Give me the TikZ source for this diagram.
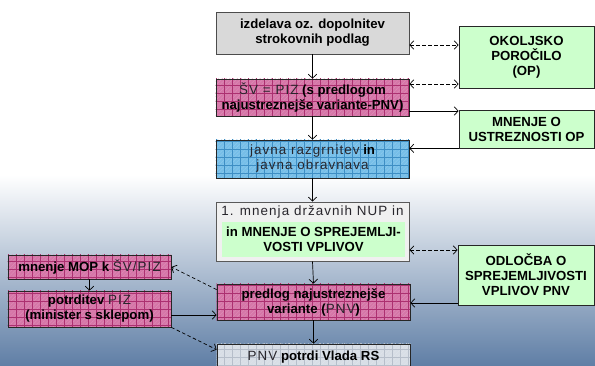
\documentclass[tikz,border=0pt]{standalone}
\usepackage{fontspec}
\setmainfont{Liberation Sans}
\newfontfamily\regf[LetterSpace=8]{Liberation Sans}
\usetikzlibrary{patterns.meta,arrows.meta,calc,backgrounds}
\definecolor{pinkf}{RGB}{214,118,168}
\definecolor{pinkl}{RGB}{172,48,112}
\definecolor{bluef}{RGB}{118,190,232}
\definecolor{bluel}{RGB}{62,142,196}
\definecolor{greenf}{RGB}{204,255,204}
\definecolor{grayf}{RGB}{217,217,217}
\definecolor{lgrayf}{RGB}{240,240,240}
\definecolor{pnvf}{RGB}{216,222,230}
\definecolor{pnvl}{RGB}{182,190,202}
\definecolor{bgblue}{RGB}{96,127,166}
\definecolor{regc}{RGB}{40,38,44}
\newcommand{\rg}[1]{{\mdseries\regf\fontsize{13.4}{15}\selectfont\color{regc}#1}}
\tikzset{
  box/.style={draw=black!85, line width=0.7pt, align=center, inner sep=1pt,
    font=\bfseries\fontsize{13.2}{15}\selectfont},
  gridfill/.style 2 args={fill=#1,
    postaction={pattern={Lines[distance=2.67pt,angle=45,line width=0.3pt]}, pattern color=#1!80!white},
    postaction={pattern={Lines[distance=8pt,angle=0,line width=0.5pt]}, pattern color=#2},
    postaction={pattern={Lines[distance=8pt,angle=90,line width=0.5pt]}, pattern color=#2}},
  midbox/.style={box, minimum width=193pt},
  sidebox/.style={box, fill=greenf, minimum width=135pt},
  leftbox/.style={box, minimum width=163pt},
  tip/.tip={Straight Barb[length=4pt,width=8.5pt,line width=0.7pt]},
  arr/.style={-tip, line width=0.7pt, black},
  darr/.style={line width=0.7pt, black, dash pattern=on 3.5pt off 2.5pt}
}
\begin{document}
\begin{tikzpicture}[x=1pt,y=-1pt]
\useasboundingbox (0,0) rectangle (595,365);
% middle column
\node[midbox, fill=grayf, draw=black!70, minimum height=42pt] (b1) at (312.5,33)
  {izdelava oz. dopolnitev\\strokovnih podlag};
\node[midbox, minimum height=37pt] (b2) at (312.5,97.5)
  {\rg{ŠV = PIZ} (s predlogom\\najustreznejše variante-PNV)};
\node[midbox, minimum height=38pt] (b3) at (312.5,159)
  {\rg{javna razgrnitev} in\\\rg{javna obravnava}};
\node[midbox, fill=lgrayf, draw=black!65, line width=1pt, minimum height=59pt] (b4) at (312.5,231.5) {};
\node[box, draw=none] (b4t) at (312.5,212.5) {\rg{1. mnenja državnih NUP in}};
\node[box, draw=none, fill=greenf, minimum width=183pt, minimum height=35pt] (b4in) at (313.5,239.5)
  {in MNENJE O SPREJEMLJI-\\VOSTI VPLIVOV};
\node[midbox, minimum height=36pt] (b5) at (313.5,302)
  {predlog najustreznejše\\variante (\rg{PNV})};
\node[midbox, minimum height=30pt, text depth=6pt] (b6) at (313.5,359)
  {\rg{PNV} potrdi Vlada RS};
% right column
\node[sidebox, minimum height=62pt] (op) at (526.5,57) {OKOLJSKO\\POROČILO\\(OP)};
\node[sidebox, minimum height=38pt] (mu) at (526.5,129) {MNENJE O\\USTREZNOSTI OP};
\node[sidebox, minimum width=136pt, minimum height=60pt] (od) at (526,275) {ODLOČBA O\\SPREJEMLJIVOSTI\\VPLIVOV PNV};
% left column
\node[leftbox, minimum height=24pt] (mop) at (89.5,267) {mnenje MOP k \rg{ŠV/PIZ}};
\node[leftbox, minimum height=36pt] (pot) at (89.5,309) {potrditev \rg{PIZ}\\(minister s sklepom)};
% backgrounds and textured fills, behind the nodes
\begin{scope}[on background layer]
\fill[white] (0,0) rectangle (595,176);
\shade[top color=white, bottom color=bgblue] (0,175) rectangle (595,365);
\path[gridfill={pinkf}{pinkl}] (b2.north west) rectangle (b2.south east);
\path[gridfill={bluef}{bluel}] (b3.north west) rectangle (b3.south east);
\path[gridfill={pinkf}{pinkl}] (b5.north west) rectangle (b5.south east);
\path[gridfill={pnvf}{pnvl}] (b6.north west) rectangle (b6.south east);
\path[gridfill={pinkf}{pinkl}] (mop.north west) rectangle (mop.south east);
\path[gridfill={pinkf}{pinkl}] (pot.north west) rectangle (pot.south east);
\end{scope}
% vertical flow
\draw[arr] (b1.south) -- (b2.north);
\draw[arr] (b2.south) -- (b3.north);
\draw[arr] (b3.south) -- (b4.north);
\draw[arr] (b4.south) -- (b5.north);
\draw[arr] (b5.south) -- (b6.north);
\draw[arr] (mop.south) -- (pot.north);
% right connectors
\draw[darr, tip-tip] ([yshift=-12pt]b1.east) -- ([yshift=-12pt]b1.east -| op.west);
\draw[darr, tip-tip] ([yshift=13.5pt]b2.east) -- ([yshift=13.5pt]b2.east -| op.west);
\draw[arr] ([yshift=-13.5pt]b2.east) -- ([yshift=-13.5pt]b2.east -| mu.west);
\draw[arr] (mu.south west) -- (mu.south west -| b3.east);
\draw[darr, tip-tip] ([yshift=-18.5pt]b4.east) -- ([yshift=-18.5pt]b4.east -| od.west);
\draw[arr] ([yshift=-1pt]b5.east -| od.west) -- ([yshift=-1pt]b5.east);
% left connectors
\draw[arr] ([yshift=-6pt]pot.east) -- ([yshift=-6pt]pot.east -| b5.west);
\draw[darr, -tip] ([yshift=-6pt]b5.north west) -- (mop.east);
\draw[darr, -tip] (pot.south east) -- ([yshift=-6pt]b6.north west);
\end{tikzpicture}
\end{document}
